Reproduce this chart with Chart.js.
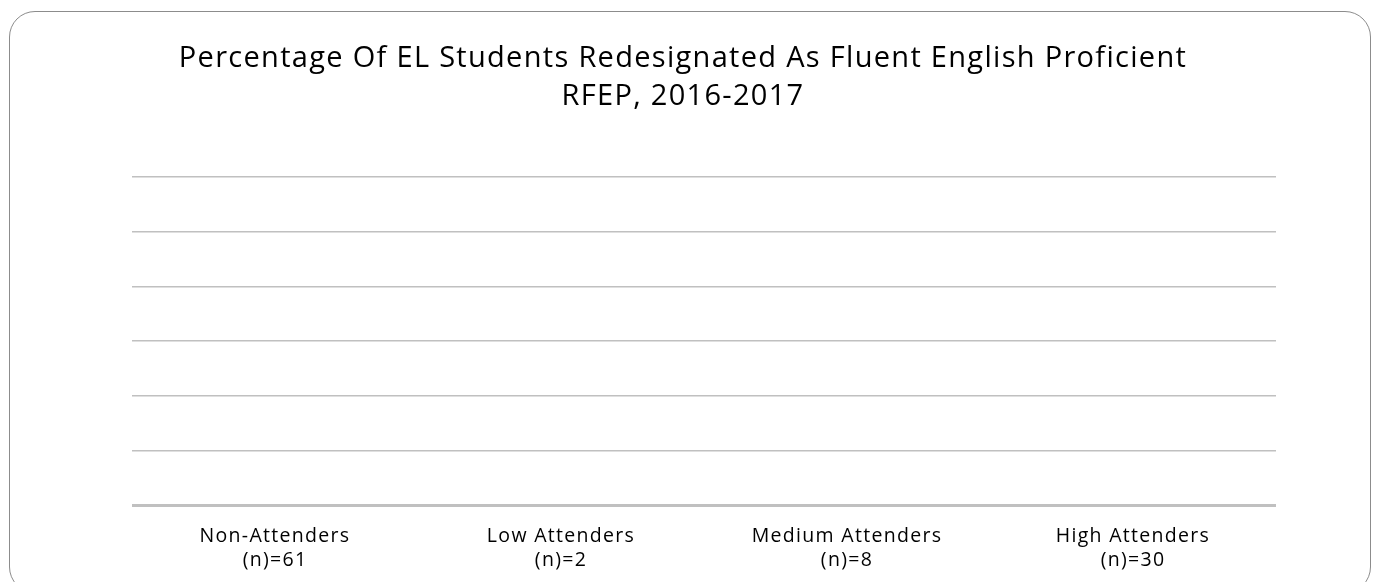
<!DOCTYPE html>
<html>
<head>
<meta charset="utf-8">
<script src="https://cdn.jsdelivr.net/npm/chart.js@4/dist/chart.umd.min.js"></script>
<style>
  html, body { margin: 0; padding: 0; background: #fff; overflow: hidden; }
  #frame {
    position: absolute; left: 9px; top: 11px;
    width: 1362px; height: 582px;
    border: 1.5px solid #8c8c8c; border-radius: 26px;
    box-sizing: border-box;
  }
  #wrap { position: absolute; left: 0; top: 0; width: 1373px; height: 591px; }
</style>
</head>
<body>
<div id="frame"></div>
<div id="wrap"><canvas id="rfep_chart"></canvas></div>
<script>
// categories and values
var groups = ['Non-Attenders', 'Low Attenders', 'Medium Attenders', 'High Attenders'];
var groupSizes = [61, 2, 8, 30];
// no bars are drawn in the original chart
var rfepPercent = [0, 0, 0, 0];

var labels = groups.map(function (g, i) { return [g, '(n)=' + groupSizes[i]]; });

// the original text is a little spaced out
var spacing = {
    id: 'spacing',
    beforeUpdate: function (chart) { chart.ctx.letterSpacing = '1.3px'; },
    beforeDraw: function (chart) { chart.ctx.letterSpacing = '1.3px'; }
};

var ctx = document.getElementById('rfep_chart').getContext('2d');
var chart = new Chart(ctx, {
    type: 'bar',
    data: {
        labels: labels,
        datasets: [{
            label: 'RFEP',
            data: rfepPercent,
            backgroundColor: 'rgb(79, 129, 189)'
        }]
    },
    plugins: [spacing],
    options: {
        responsive: true,
        maintainAspectRatio: false,
        animation: false,
        layout: { padding: { left: 90, right: 97, top: 28, bottom: 0 } },
        plugins: {
            legend: { display: false },
            tooltip: { enabled: false },
            title: {
                display: true,
                text: ['Percentage Of EL Students Redesignated As Fluent English Proficient', 'RFEP, 2016-2017'],
                color: '#000',
                font: { family: '"Open Sans"', size: 29, weight: 'normal', lineHeight: 1.31 },
                padding: { top: 12, bottom: 61 }
            }
        },
        scales: {
            x: {
                grid: { display: false, drawTicks: false },
                border: { display: false },
                ticks: {
                    color: '#000',
                    padding: 19,
                    maxRotation: 0,
                    font: { family: '"Open Sans"', size: 19.5, lineHeight: 1.23 }
                }
            },
            y: {
                min: 0,
                max: 60,
                ticks: { display: false, stepSize: 10 },
                border: { display: false },
                afterFit: function (scale) { scale.width = 42; },
                grid: {
                    drawTicks: false,
                    color: '#c0c0c0',
                    lineWidth: function (c) { return c.tick && c.tick.value === 0 ? 3 : 1.5; }
                }
            }
        }
    }
});
</script>
</body>
</html>
